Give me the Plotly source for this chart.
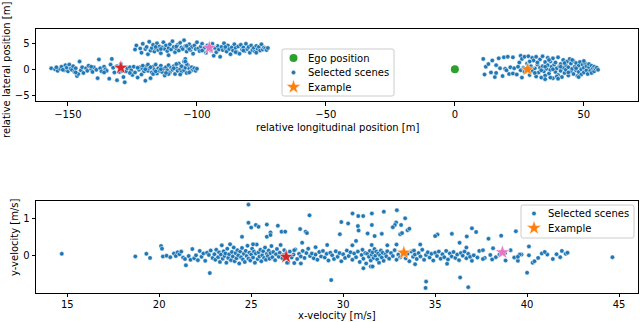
import plotly.graph_objs as go

# ---- top panel: relative positions of selected scenes [m] ----
# cluster behind ego, same lane
behind_lane0 = [(-156.5,0.2),(-155,0.0),(-154,-0.3),(-153,0.1),(-152.5,0.5),(-151.5,-0.2),(-151,0.8),(-150.5,0.3),
    (-150,-0.4),(-149.5,0.9),(-149,0.1),(-148.5,-0.1),(-148,0.6),(-147.5,-0.5),(-147,0.2),(-146.5,-1.3),(-146,-0.9),
    (-145.5,1.5),(-145,-0.2),(-144.5,0.4),(-144,-0.7),(-143,0.2),(-142.5,-0.3),(-142,0.7),(-141,0.0),(-140.5,-0.5),
    (-140,0.4),(-139,-0.1),(-138.5,-1.7),(-138,1.9),(-137.5,0.2),(-137,-0.4),(-136,0.5),(-135.5,0.0),(-135,-0.3),
    (-134,-1.8),(-133.5,0.9),(-133,2.0),(-132.5,0.3),(-132,-0.6),(-131,-2.1),(-131,0.6),(-130,-0.5),(-129.5,1.0),
    (-128.5,-1.5),(-128,-2.5),(-127.5,-0.4),(-127,0.2),(-126,0.4),(-125.5,-0.2),(-125,-1.1),(-124.5,0.5),(-124,-0.6),
    (-123,-1.6),(-122.5,-0.1),(-122,0.4),(-121.5,-1.0),(-121,0.1),(-120.5,-0.4),(-120,-2.2),(-119.5,0.6),(-119,-0.3),
    (-118.5,0.2),(-118,-1.7),(-117.5,-0.6),(-117,0.5),(-116.5,-0.1),(-116,0.9),(-115.5,-0.8),(-115,0.2),(-114.5,-0.3),
    (-114,0.7),(-113.5,-0.5),(-113,0.1),(-112.5,-1.2),(-112,0.4),(-111.5,-0.2),(-111,0.8),(-110.5,-0.6),(-110,0.3),
    (-109.5,-0.1),(-109,0.6),(-108.5,-0.9),(-108,0.2),(-107.5,-0.3),(-107,1.1),(-106.5,0.0),(-106,-0.5),(-105.5,0.5),
    (-105,-0.2),(-104.5,0.3),(-104,-0.7),(-103.5,0.8),(-103,0.1),(-102.5,-0.4),(-102,0.4),(-101.5,-0.1),(-101,0.2),
    (-100.5,-0.3),(-100,0.1),(-119,0.9),(-117,-0.9),(-114,0.0),(-111,-0.9),(-109,0.2),(-106,0.6),(-104,1.0),
    (-103,-0.6),(-116,-0.4),(-121,0.7),(-123,0.3),(-126,-0.7),(-129,-0.3),(-136,-0.6),(-141,0.5),(-147,-0.6),
    (-152,-0.1),(-154.5,0.4),(-105,1.5),(-106.5,-1.0),(-112,-0.7),(-118,0.4),(-120,0.0),(-108,1.0),(-104.5,2.0),
    (-104.5,1.5)]
# cluster behind ego, left lane
behind_lane4 = [(-124,3.8),(-123.5,4.6),(-122,4.0),(-121.5,3.2),(-121,4.9),(-120,3.9),(-119.5,4.3),(-119,2.9),
    (-118.5,5.3),(-118,3.6),(-117.5,4.1),(-117,4.7),(-116.5,3.4),(-116,4.0),(-115.5,5.0),(-115,3.7),(-114.5,4.4),
    (-114,3.1),(-113.5,4.2),(-113,5.2),(-112.5,3.9),(-112,4.6),(-111.5,3.5),(-111,4.1),(-110.5,4.8),(-110,3.8),
    (-109.5,5.4),(-109,4.3),(-108.5,3.3),(-108,4.0),(-107.5,4.7),(-107,3.6),(-106.5,5.1),(-106,4.2),(-105.5,3.9),
    (-105,5.6),(-104.5,4.5),(-104,3.4),(-103.5,4.1),(-103,4.8),(-102.5,3.7),(-102,4.3),(-101.5,3.0),(-101,4.6),
    (-100.5,3.9),(-100,5.2),(-99.5,4.0),(-99,3.5),(-98.5,4.4),(-98,4.9),(-97.5,3.8),(-97,4.2),(-96.5,3.2),(-96,4.6),
    (-94.5,3.6),(-94,4.9),(-93.5,2.6),(-93,4.1),(-92.5,3.3),(-92,4.5),(-91.5,3.8),(-91,2.4),(-90.5,4.3),(-90,3.7),
    (-89.5,5.0),(-89,4.0),(-88.5,3.4),(-88,4.6),(-87.5,3.9),(-87,2.9),(-86.5,4.2),(-86,3.6),(-85.5,4.8),(-85,4.1),
    (-84.5,3.3),(-84,4.4),(-83.5,3.0),(-83,4.7),(-82.5,3.8),(-82,4.2),(-81.5,3.5),(-81,4.9),(-80.5,3.9),(-80,4.3),
    (-79.5,3.2),(-79,4.6),(-78.5,3.7),(-78,4.1),(-77.5,3.4),(-77,4.5),(-76.5,3.9),(-76,4.3),(-75.5,3.6),(-75,4.8),
    (-74.5,3.8),(-74,4.2),(-73.5,4.0),(-73,3.7),(-72.5,4.1),(-111,2.7),(-114,3.9),(-108,4.4),(-103,3.9),(-98,3.6),
    (-95.5,4.0),(-89,4.3),(-85,3.3),(-82,3.6),(-77,3.2),(-104,4.5),(-116,4.3)]
# cluster ahead of ego
ahead = [(11,2.0),(11.5,-1.0),(12,0.5),(13,1.0),(14,-0.6),(14.5,1.7),(15.5,-1.5),(16,0.8),(17,2.1),(17.5,0.2),
    (18.5,-1.3),(19,2.3),(19.5,0.1),(20.5,2.4),(21,-0.9),(21.5,0.4),(22.5,2.3),(22.5,-0.8),(23,0.2),(24,-1.0),
    (24.5,0.5),(25,1.3),(25.5,2.6),(25.5,-0.2),(26,2.0),(26.5,0.3),(27,2.4),(27,-0.5),(28,1.1),(28.5,2.5),(29,-1.1),
    (29.5,0.6),(30,2.2),(30,-0.3),(30.5,1.7),(31,0.2),(31.5,2.4),(31.5,-1.4),(32,0.9),(32.5,-0.6),(33,1.9),(33,0.3),
    (33.5,-1.6),(34,2.5),(34,0.6),(34.5,-0.4),(35,1.4),(35,-1.2),(35.5,0.1),(36,2.2),(36,0.8),(36.5,-0.8),(37,1.5),
    (37,-0.1),(37.5,0.5),(38,-1.7),(38,2.1),(38.5,0.9),(39,-0.5),(39,1.3),(39.5,0.2),(40,-1.1),(40,2.3),(40.5,0.6),
    (41,-0.3),(41,1.0),(41.5,-1.5),(42,0.3),(42,1.8),(42.5,-0.7),(43,0.8),(43,-0.1),(43.5,1.5),(44,-1.2),(44,0.4),
    (44.5,2.0),(45,-0.4),(45,1.1),(45.5,0.1),(46,-0.9),(46,1.6),(46.5,0.5),(47,-0.2),(47,1.2),(47.5,-1.3),(48,0.7),
    (48,-0.5),(48.5,1.4),(49,0.0),(49,-1.0),(49.5,0.9),(50,0.3),(50,-0.6),(50.5,1.1),(51,-0.2),(51,0.6),(51.5,-0.9),
    (52,0.4),(52,1.0),(52.5,-0.3),(53,0.7),(53,-0.7),(53.5,0.2),(54,0.5),(54,-0.4),(54.5,0.1),(55,0.3),(55.5,-0.1),
    (32,1.3),(33.5,-0.2),(35,0.5),(36.5,1.8),(38,0.0),(39.5,-1.4),(41,0.5),(42.5,1.2),(44,-0.6),(45.5,1.8),(47,0.2),
    (48,-1.5),(50,1.6),(35,-1.9),(37,-1.6),(40,-1.8),(29,1.5),(31,-0.7),(26,-1.6),(20,-0.2),(16,-0.7)]
ego_pos = (0.0, 0.0)
example_pos = [(-129.5,0.3),(28.2,0.0),(-95.2,4.15)]   # red, orange, pink

# ---- bottom panel: velocities of selected scenes [m/s] ----
vel_slow = [(14.7,0.04),(18.7,-0.03),(19.3,0.04),(19.5,-0.07),(20.1,0.25),(20.15,0.18),(20.2,-0.03),(20.4,-0.01),
    (20.6,-0.05),(20.8,0.05),(20.9,-0.02),(21.0,0.08),(21.1,0.03),(21.2,0.1),(21.3,-0.06),(21.4,-0.1),(21.45,-0.27),
    (21.6,-0.02),(21.7,-0.12),(21.8,0.17),(21.9,-0.08),(22.0,0.0),(22.1,-0.13),(22.2,0.12),(22.3,-0.04),(22.4,0.05),
    (22.5,-0.15),(22.6,0.07),(22.7,0.01),(22.75,-0.48),(22.8,0.13),(22.9,-0.07)]
vel_mid = [(23.0,0.03),(23.05,-0.12),(23.1,0.15),(23.2,-0.05),(23.25,0.08),(23.3,-0.18),(23.35,0.02),(23.4,0.27),
    (23.45,-0.09),(23.5,0.11),(23.55,-0.02),(23.6,0.05),(23.65,-0.2),(23.7,0.18),(23.75,-0.07),(23.8,0.03),(23.85,0.3),
    (23.9,-0.13),(23.95,0.09),(24.0,-0.03),(24.05,0.21),(24.1,-0.16),(24.15,0.06),(24.2,-0.08),(24.25,0.14),(24.3,0.0),
    (24.35,-0.22),(24.4,0.1),(24.45,-0.05),(24.5,0.5),(24.5,0.2),(24.55,-0.11),(24.6,0.04),(24.65,-0.18),(24.7,0.12),
    (24.75,-0.02),(24.8,0.26),(24.85,-0.09),(24.9,0.07),(24.95,-0.14),(25.0,0.02),(25.05,0.18),(25.1,-0.06),
    (25.15,0.1),(25.2,-0.2),(25.25,0.05),(25.3,0.29),(25.35,-0.1),(25.4,0.08),(25.45,-0.03),(25.5,0.15),(25.55,-0.16),
    (25.6,0.0),(25.65,0.11),(25.7,-0.07),(25.75,0.21),(25.8,-0.12),(25.85,0.04),(25.9,-0.02),(25.95,0.13),(26.0,-0.09),
    (26.05,0.06),(26.1,0.25),(26.15,-0.05),(26.2,0.09),(26.3,-0.13),(26.35,0.03),(26.4,0.17),(26.5,-0.04),(26.55,0.07),
    (26.6,0.28),(26.7,-0.08),(26.75,0.01),(26.8,0.14),(26.9,0.05),(27.0,-0.2),(27.1,0.1),(27.2,-0.06),(27.3,0.02),
    (27.4,0.16),(27.5,-0.1),(27.6,0.04),(27.7,-0.03),(27.8,0.12),(27.9,-0.07),(28.0,0.06),(28.1,0.18),(28.2,-0.02),
    (24.85,1.37),(24.85,0.88),(25.0,0.75),(25.25,0.82),(25.4,0.77),(25.85,0.83),(25.85,0.5),(26.05,0.62),(26.05,0.55),
    (26.45,0.8),(26.65,0.64),(26.85,0.64),(27.66,0.71),(27.96,0.64),(28.17,1.08),(28.03,0.6),(27.77,0.34),(25.1,0.3),
    (26.95,-0.2),(27.7,-0.22),(27.34,0.14),(27.34,-0.21)]
vel_fast = [(28.3,0.05),(28.4,-0.08),(28.5,0.02),(28.6,-0.12),(28.7,0.09),(28.8,-0.03),(28.9,0.12),(29.0,-0.06),
    (29.1,0.04),(29.2,-0.14),(29.3,0.07),(29.4,0.0),(29.5,-0.1),(29.6,0.11),(29.7,-0.04),(29.8,0.06),(29.9,-0.16),
    (30.0,0.03),(30.1,-0.07),(30.2,0.13),(30.3,-0.02),(30.4,0.08),(30.5,-0.12),(30.6,0.05),(30.7,-0.05),(30.8,0.1),
    (30.9,-0.18),(31.0,0.01),(31.05,0.15),(31.1,-0.09),(31.2,0.06),(31.25,-0.22),(31.3,0.04),(31.4,-0.04),(31.45,0.12),
    (31.5,-0.14),(31.55,0.02),(31.6,0.08),(31.65,-0.07),(31.7,0.17),(31.75,-0.01),(31.8,0.1),(31.85,-0.11),(31.9,0.05),
    (31.95,-0.2),(32.0,0.0),(32.05,0.13),(32.1,-0.06),(32.15,0.07),(32.2,-0.15),(32.3,0.03),(32.35,-0.03),(32.4,0.11),
    (32.5,-0.09),(32.6,0.06),(32.7,-0.02),(32.8,0.14),(32.9,-0.12),(33.0,0.02),(33.1,-0.05),(33.2,0.09),(33.4,-0.08),
    (33.5,0.04),(33.6,-0.16),(33.7,0.1),(33.8,-0.04),(33.85,0.13),(33.9,0.02),(34.0,-0.1),(34.1,0.06),(34.2,-0.03),
    (34.3,0.15),(34.4,-0.12),(34.5,0.01),(34.6,0.08),(34.7,-0.06),(34.8,0.04),(34.9,-0.14),(35.0,0.07),(35.1,-0.02),
    (35.2,0.1),(35.3,-0.09),(35.4,0.03),(35.5,-0.05),(35.6,0.12),(35.7,-0.11),(35.8,0.05),(35.9,-0.03),(36.0,0.09),
    (36.1,-0.07),(36.2,0.02),(36.3,-0.13),(36.4,0.06),(36.5,-0.01),(36.6,0.1),(36.7,-0.08),(36.8,0.04),(36.9,-0.04),
    (37.1,0.0),(37.3,-0.06),(37.7,-0.07),(38.0,0.01),(38.3,-0.05),(38.5,0.02),(38.8,0.06),(39.3,-0.06),(39.7,0.02),
    (40.6,-0.07),(40.8,0.05),(41.1,0.02),(41.6,0.03),(42.1,0.04),(37.0,-0.15),
    (30.51,1.13),(30.82,1.06),(31.09,1.06),(29.9,0.9),(30.27,0.86),(30.8,0.79),(30.84,0.67),(29.82,0.57),(31.56,1.13),
    (32.21,1.18),(32.92,1.22),(31.56,0.82),(31.33,0.59),(31.71,0.52),(32.1,0.58),(32.88,0.89),(32.81,0.82),(33.15,0.82),
    (33.37,1.0),(32.7,0.76),(33.1,0.57),(33.2,0.6),(33.5,0.68),(33.6,0.72),(30.7,0.39),(31.55,0.28),(32.4,0.27),
    (32.9,0.29),(30.5,0.27),(29.13,0.28),(28.5,0.22),(34.19,0.29),(35.13,0.56),(35.0,0.52),(29.35,-0.67),(34.51,-0.71),
    (34.48,-0.88),(33.91,-0.24),(31.1,-0.35),(31.5,-0.3),(31.6,-0.3),(35.91,0.58),(36.72,0.51),(37.0,0.73),(37.23,0.63),
    (36.33,0.34),(36.7,0.21),(37.9,0.45),(38.59,0.53),(39.39,0.65),(38.15,0.19),(40.1,0.24),(39.1,0.14),(41.89,0.12),
    (42.2,0.07),(44.64,-0.05),(36.36,-0.6),(36.8,-0.86),(40.0,-0.47),(35.65,-0.23),(39.5,-0.15),(38.83,-0.14),
    (37.6,-0.1),(38.1,-0.11),(40.3,-0.2),(40.4,-0.16),(40.96,0.09),(41.4,-0.1),(41.8,-0.05),(40.1,0.0),(39.6,0.02),
    (39.5,-0.04),(37.4,0.12),(37.6,0.14)]
example_vel = [(26.9,-0.04),(33.3,0.07),(38.66,0.08)]   # red, orange, pink

star_colors = ["#d62728", "#ff7f0e", "#e377c2"]
BLUE = "#1f77b4"
GREEN = "#2ca02c"
FONT = "DejaVu Sans"
W, H = 640, 322

top_pts = behind_lane0 + behind_lane4 + ahead
bot_pts = vel_slow + vel_mid + vel_fast

fig = go.Figure()

# top panel
fig.add_trace(go.Scatter(x=[ego_pos[0]], y=[ego_pos[1]], mode="markers", xaxis="x", yaxis="y",
                         marker=dict(color=GREEN, size=8)))
fig.add_trace(go.Scatter(x=[p[0] for p in top_pts], y=[p[1] for p in top_pts], mode="markers",
                         xaxis="x", yaxis="y",
                         marker=dict(color=BLUE, size=4.5, line=dict(color="white", width=0.5))))
for i, (px, py) in enumerate(example_pos):
    fig.add_trace(go.Scatter(x=[px], y=[py], mode="markers", xaxis="x", yaxis="y",
                             marker=dict(color=star_colors[i], size=11, symbol="star",
                                         line=dict(color="white", width=0.5))))

# bottom panel
fig.add_trace(go.Scatter(x=[p[0] for p in bot_pts], y=[p[1] for p in bot_pts], mode="markers",
                         xaxis="x2", yaxis="y2",
                         marker=dict(color=BLUE, size=4.5, line=dict(color="white", width=0.5))))
for i, (px, py) in enumerate(example_vel):
    fig.add_trace(go.Scatter(x=[px], y=[py], mode="markers", xaxis="x2", yaxis="y2",
                             marker=dict(color=star_colors[i], size=11, symbol="star",
                                         line=dict(color="white", width=0.5))))

# matplotlib-style legends drawn on a pixel overlay (x3/y3)
def legend_box(x0, y0, x1, y1, r=2):
    return (f"M{x0+r},{y0} L{x1-r},{y0} Q{x1},{y0} {x1},{y0+r} L{x1},{y1-r} Q{x1},{y1} {x1-r},{y1} "
            f"L{x0+r},{y1} Q{x0},{y1} {x0},{y1-r} L{x0},{y0+r} Q{x0},{y0} {x0+r},{y0} Z")

legends = [
    dict(box=(282, 49, 394, 96), sym_x=293.5, text_x=306,
         items=[("Ego position", "circle", GREEN, 8, 58), ("Selected scenes", "circle", BLUE, 4.5, 72.5),
                ("Example", "star", star_colors[1], 11, 87)]),
    dict(box=(521, 205, 634, 238), sym_x=534, text_x=546,
         items=[("Selected scenes", "circle", BLUE, 4.5, 213.5), ("Example", "star", star_colors[1], 11, 228)]),
]
for lg in legends:
    fig.add_shape(type="path", xref="x3", yref="y3", path=legend_box(*lg["box"]), layer="below",
                  fillcolor="rgba(255,255,255,0.8)", line=dict(color="#cccccc", width=1))
    for label, sym, col, sz, yy in lg["items"]:
        fig.add_trace(go.Scatter(x=[lg["sym_x"]], y=[yy], mode="markers", xaxis="x3", yaxis="y3",
                                 marker=dict(color=col, size=sz, symbol=sym,
                                             line=dict(color="white", width=0.5 if sym != "circle" or sz < 6 else 0))))
        fig.add_annotation(xref="x3", yref="y3", x=lg["text_x"], y=yy, text=label, showarrow=False,
                           xanchor="left", yanchor="middle", font=dict(family=FONT, size=10, color="black"))

ax = dict(showgrid=False, zeroline=False, showline=True, mirror=True, linecolor="black", linewidth=1,
          ticks="outside", ticklen=3.5, tickwidth=0.8, tickcolor="black",
          tickfont=dict(family=FONT, size=10, color="black"))

fig.update_layout(
    width=W, height=H, margin=dict(l=0, r=0, t=0, b=0),
    paper_bgcolor="white", plot_bgcolor="rgba(0,0,0,0)",
    font=dict(family=FONT, size=10, color="black"),
    showlegend=False, hovermode=False,
    xaxis=dict(ax, domain=[36/W, 638/W], range=[-162.4, 71], tickvals=[-150, -100, -50, 0, 50], anchor="y"),
    yaxis=dict(ax, domain=[1-101/H, 1-29/H], range=[-6.1, 7.75], tickvals=[-5, 0, 5], anchor="x"),
    xaxis2=dict(ax, domain=[36/W, 638/W], range=[13.3, 46.03], tickvals=[15, 20, 25, 30, 35, 40, 45],
                anchor="y2", ticklabelstandoff=-1),
    yaxis2=dict(ax, domain=[1-292.7/H, 1-200.7/H], range=[-1.01, 1.476], tickvals=[0, 1], anchor="x2"),
    xaxis3=dict(domain=[0, 1], range=[0, W], visible=False, fixedrange=True, anchor="y3"),
    yaxis3=dict(domain=[0, 1], range=[H, 0], visible=False, fixedrange=True, anchor="x3"),
)

# axis labels
labels = [
    dict(text="relative longitudinal position [m]", x=337/W, y=1-127/H, textangle=0),
    dict(text="relative lateral position [m]", x=7/W, y=1-70/H, textangle=-90),
    dict(text="x-velocity [m/s]", x=337/W, y=1-315.5/H, textangle=0),
    dict(text="y-velocity [m/s]", x=14/W, y=1-237/H, textangle=-90),
]
for lb in labels:
    fig.add_annotation(xref="paper", yref="paper", showarrow=False, xanchor="center", yanchor="middle",
                       font=dict(family=FONT, size=10, color="black"), **lb)

fig.write_html("out.html", config={"displayModeBar": False},
               post_script="document.body.style.margin='0px';")
